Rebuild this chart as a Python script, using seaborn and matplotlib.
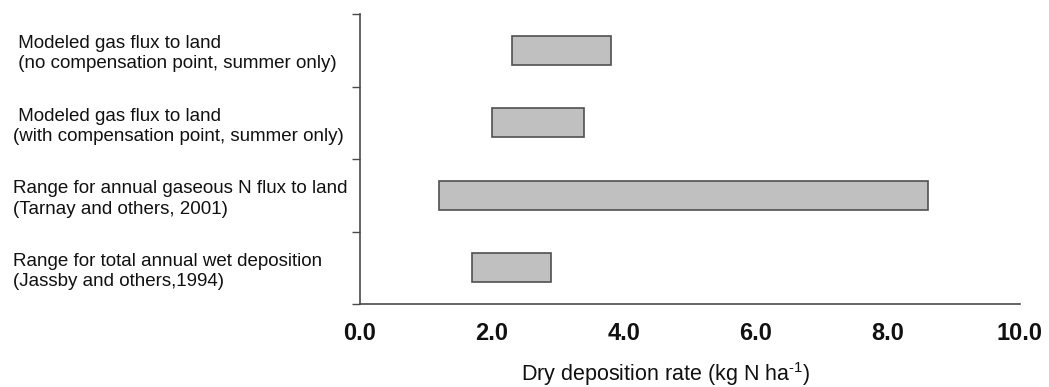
import numpy as np
import pandas as pd
import matplotlib
matplotlib.use("Agg")
import matplotlib.pyplot as plt
import seaborn as sns

categories = [
    " Modeled gas flux to land\n (no compensation point, summer only)",
    " Modeled gas flux to land\n(with compensation point, summer only)",
    "Range for annual gaseous N flux to land\n(Tarnay and others, 2001)",
    "Range for total annual wet deposition\n(Jassby and others,1994)",
]
range_low = [2.3, 2.0, 1.2, 1.7]
range_high = [3.8, 3.4, 8.6, 2.9]
x_ticks = [0.0, 2.0, 4.0, 6.0, 8.0, 10.0]
x_tick_labels = ["0.0", "2.0", "4.0", "6.0", "8.0", "10.0"]
x_label = "Dry deposition rate (kg N ha$^{\\text{-1}}$)"

sns.set_theme(style="white")
plt.rcParams["font.family"] = ["Liberation Sans", "DejaVu Sans"]
plt.rcParams["mathtext.fontset"] = "custom"
plt.rcParams["mathtext.rm"] = "Liberation Sans"

df = pd.DataFrame({
    "category": categories,
    "low": range_low,
    "high": range_high,
})
df["span"] = df["high"] - df["low"]

fig = plt.figure(figsize=(10.49, 3.87), dpi=100)
ax = fig.add_axes([360 / 1049, 1 - 304 / 387, (1020 - 360) / 1049, (304 - 14) / 387])

sns.barplot(data=df, x="span", y="category", left=df["low"].values, orient="h",
            color="#c0c0c0", edgecolor="#505050", linewidth=1.2, width=0.4,
            saturation=1, ax=ax)

ax.set_xlim(0, 10)
ax.set_ylim(3.5, -0.5)

edge = "#4a4a4a"
for s in ["top", "right"]:
    ax.spines[s].set_visible(False)
for s in ["left", "bottom"]:
    ax.spines[s].set_color(edge)
    ax.spines[s].set_linewidth(1.2)

ax.set_xticks(x_ticks)
ax.set_xticklabels(x_tick_labels, fontsize=17, fontweight="bold", color="#111111")
ax.tick_params(axis="x", which="major", direction="out", length=6, width=1, color=edge, pad=7)

# category labels on major y ticks (no tick mark), boundaries on minor ticks
ax.set_yticks(range(len(categories)))
ax.set_yticklabels(categories, fontsize=13.5, color="#111111", ha="left", linespacing=1.25)
ax.tick_params(axis="y", which="major", length=0, pad=347 * 72 / 100)
ax.set_yticks(np.arange(-0.5, len(categories), 1.0), minor=True)
ax.tick_params(axis="y", which="minor", direction="out", length=6, width=1, color=edge, left=True)

ax.set_ylabel("")
ax.set_xlabel(x_label, fontsize=15.5, color="#111111")
ax.xaxis.label.set_va("baseline")
ax.xaxis.set_label_coords((666 - 360) / 660, -(381 - 304) / 290)

fig.savefig("out.png", dpi=100, facecolor="white")
